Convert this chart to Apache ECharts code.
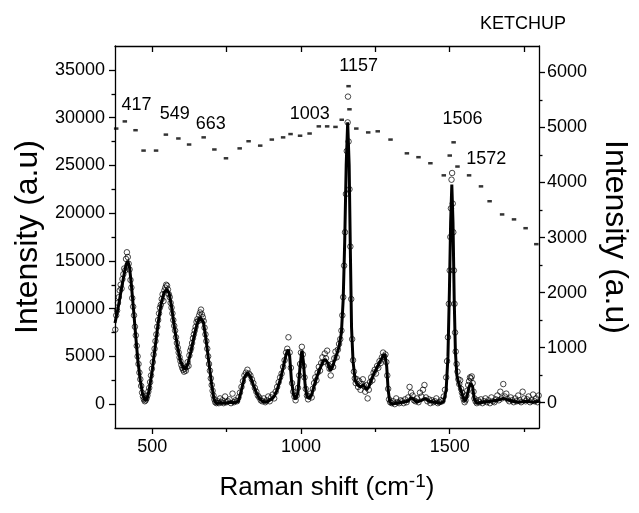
<!DOCTYPE html>
<html><head><meta charset="utf-8">
<script src="https://cdn.jsdelivr.net/npm/echarts@6/dist/echarts.min.js"></script>
<style>html,body{margin:0;padding:0;background:#fff}#c{width:639px;height:513px}</style>
</head><body><div id="c"></div>
<script>
const FONT = "'Liberation Sans', Arial, sans-serif";

const chartTitle = 'KETCHUP';
const xTitle = 'Raman shift (cm';
const xTitleSup = '-1';
const yTitle = 'Intensity (a.u)';

const xMajorTicks = [500, 1000, 1500];
const xMinorTicks = [750, 1250, 1750];
const xTopTicks = [500, 750, 1000, 1250, 1500, 1750];
const leftMajorTicks = [0, 5000, 10000, 15000, 20000, 25000, 30000, 35000];
const leftMinorTicks = [2500, 7500, 12500, 17500, 22500, 27500, 32500];
const rightMajorTicks = [0, 1000, 2000, 3000, 4000, 5000, 6000];
const rightMinorTicks = [500, 1500, 2500, 3500, 4500, 5500];

// smoothed spectrum (left axis)
const fitSpectrum = [
[375,8500],[385,10000],[395,11800],[405,13500],[412,14600],[418,15000],[424,14300],[430,12500],[437,10000],[445,7000],[452,4500],[460,2500],[468,1000],[475,400],[482,500],[490,1500],[500,3500],[510,6000],[520,8500],[530,10500],[540,11700],[550,12000],[557,11600],[565,10200],[575,8000],[585,6000],[595,4500],[605,3800],[612,3700],[620,4200],[630,5500],[640,7000],[650,8300],[660,9100],[666,9200],[672,8600],[680,7000],[690,4500],[700,2000],[708,500],[715,50],[730,150],[745,100],[760,200],[775,150],[790,300],[800,1500],[810,2800],[820,3300],[830,2900],[840,2000],[850,1200],[860,600],[870,300],[880,200],[890,300],[900,500],[910,800],[920,1500],[930,2500],[940,3800],[950,5200],[957,5700],[962,5000],[968,2500],[975,1000],[982,500],[990,1200],[997,4000],[1003,5600],[1008,4500],[1014,2000],[1020,800],[1028,600],[1036,1000],[1045,2000],[1055,3000],[1065,3800],[1075,4500],[1082,4700],[1090,4300],[1098,3500],[1105,3800],[1112,4500],[1120,5200],[1128,6000],[1136,7500],[1142,11000],[1147,17000],[1152,25000],[1157,29500],[1162,25000],[1166,16000],[1170,8000],[1175,4500],[1182,2500],[1190,2000],[1200,1800],[1210,2000],[1220,1500],[1228,1800],[1236,2500],[1245,3200],[1255,3800],[1265,4400],[1275,5000],[1282,5200],[1288,4000],[1293,1500],[1298,300],[1305,0],[1320,100],[1340,200],[1360,300],[1370,700],[1378,500],[1390,200],[1405,400],[1418,600],[1430,300],[1450,200],[1470,100],[1480,300],[1488,1500],[1494,5000],[1499,12000],[1503,19000],[1507,23000],[1511,19000],[1515,11000],[1519,5500],[1524,3000],[1530,2200],[1537,1500],[1545,700],[1552,300],[1558,800],[1565,1800],[1571,2200],[1577,1800],[1582,600],[1590,100],[1610,200],[1640,300],[1660,400],[1680,600],[1690,500],[1710,300],[1730,200],[1760,300],[1780,200],[1800,300]
];

// raw measured points (left axis)
const rawSpectrum = [
[376,7800],[379,9300],[382,9800],[385,10600],[388,11200],[391,11900],[394,12500],[397,12100],[400,13100],[403,13600],[406,14200],[409,14000],[412,15200],[415,15900],[418,15400],[421,14700],[424,14100],[427,13000],[430,12200],[433,11100],[436,10200],[439,9300],[442,8100],[445,7200],[448,6100],[451,5000],[454,4200],[457,3300],[460,2600],[463,1900],[466,1200],[469,800],[472,500],[475,300],[478,400],[481,600],[484,900],[487,1300],[490,1700],[493,2300],[496,3000],[499,3700],[502,4400],[505,5200],[508,5800],[511,6600],[514,7300],[517,8100],[520,8800],[523,9500],[526,10100],[529,10400],[532,11000],[535,11500],[538,10800],[541,11900],[544,12200],[547,12500],[550,12400],[553,12000],[556,11500],[559,11200],[562,10600],[565,10100],[568,9500],[571,8800],[574,8200],[577,7700],[580,7000],[583,6400],[586,5900],[589,5400],[592,4900],[595,4500],[598,4100],[601,3800],[604,3600],[607,3400],[610,3700],[613,3500],[616,3900],[619,4400],[622,4000],[625,5100],[628,5600],[631,5900],[634,6400],[637,6900],[640,7300],[643,7700],[646,8100],[649,8600],[652,8900],[655,8700],[658,9300],[661,9600],[664,9900],[667,9400],[670,9100],[673,8700],[676,8000],[679,7300],[682,6600],[685,5800],[688,5000],[691,4200],[694,3500],[697,2700],[700,2000],[703,1400],[706,900],[709,500],[712,200],[716,100],[720,300],[724,100],[728,600],[732,200],[736,400],[740,100],[745,800],[750,200],[755,300],[760,500],[765,100],[770,1100],[775,200],[780,400],[785,300],[790,700],[795,1200],[800,1800],[805,2400],[810,3000],[815,3300],[820,3600],[825,3200],[830,3000],[835,2600],[840,2200],[845,1700],[850,1300],[855,900],[860,700],[865,400],[870,300],[875,600],[880,200],[885,400],[890,800],[895,300],[900,700],[905,1000],[910,600],[915,1300],[920,1800],[925,2300],[930,2800],[935,3200],[940,3900],[945,4600],[950,5400],[954,5800],[958,7000],[962,5400],[966,3800],[970,2200],[974,1300],[978,800],[982,400],[986,900],[990,1700],[994,3000],[997,4200],[1000,5400],[1003,6000],[1006,5200],[1009,4000],[1012,2800],[1016,1600],[1020,900],[1024,500],[1028,800],[1032,1100],[1036,700],[1040,1600],[1044,2200],[1048,2800],[1052,2500],[1056,3300],[1060,3900],[1064,3500],[1068,4300],[1072,4900],[1076,4400],[1080,5300],[1084,4800],[1088,5600],[1092,4100],[1096,3700],[1100,3000],[1104,4200],[1108,3900],[1112,4800],[1116,5500],[1120,4900],[1124,5700],[1128,6300],[1132,6800],[1136,7700],[1139,9300],[1142,11200],[1145,14500],[1148,18000],[1151,22000],[1154,26500],[1157,29500],[1158,32200],[1160,27500],[1163,22500],[1166,16500],[1169,11000],[1172,6800],[1175,4600],[1178,3400],[1181,2700],[1184,2200],[1188,2600],[1192,1800],[1196,2400],[1200,1500],[1204,2100],[1208,2600],[1212,1900],[1216,1300],[1220,2000],[1224,600],[1228,1500],[1232,2300],[1236,2800],[1240,2500],[1244,3300],[1248,3600],[1252,3200],[1256,4000],[1260,3800],[1264,4500],[1268,4300],[1272,4900],[1276,5400],[1280,5000],[1284,5200],[1287,4400],[1290,3000],[1293,1600],[1296,500],[1300,200],[1305,100],[1310,300],[1315,0],[1320,600],[1325,200],[1330,100],[1335,400],[1340,300],[1345,100],[1350,500],[1355,200],[1360,700],[1365,1800],[1370,1200],[1375,900],[1380,400],[1385,300],[1390,600],[1395,200],[1400,1200],[1405,800],[1410,1500],[1415,2000],[1420,700],[1425,300],[1430,500],[1435,100],[1440,400],[1445,200],[1450,300],[1455,600],[1460,100],[1465,200],[1470,400],[1475,300],[1480,800],[1484,1500],[1488,2800],[1491,4500],[1494,7000],[1497,10500],[1500,14000],[1502,17500],[1504,20500],[1506,23500],[1508,24200],[1510,21000],[1512,18000],[1514,14000],[1516,10500],[1518,7500],[1520,5500],[1523,4200],[1526,3400],[1529,2600],[1532,2100],[1535,2500],[1538,1600],[1541,1200],[1544,800],[1547,500],[1550,200],[1553,400],[1556,900],[1559,1400],[1562,2000],[1565,2400],[1568,2800],[1571,2700],[1574,2900],[1577,2200],[1580,1300],[1583,600],[1587,300],[1591,100],[1595,400],[1600,200],[1605,500],[1610,100],[1615,300],[1620,600],[1625,200],[1630,400],[1635,100],[1640,700],[1645,300],[1650,200],[1655,500],[1660,900],[1665,400],[1670,1300],[1675,600],[1680,2100],[1685,800],[1690,1100],[1695,500],[1700,300],[1705,700],[1710,400],[1715,200],[1720,600],[1725,300],[1730,900],[1735,400],[1740,200],[1745,1300],[1750,600],[1755,300],[1760,500],[1765,800],[1770,200],[1775,400],[1780,1000],[1785,300],[1790,600],[1795,200],[1799,900]
];

// spectrum with background (right axis)
const backgroundSpectrum = [
[379,4980],[408,5110],[444,4950],[471,4580],[513,4580],[546,4870],[588,4800],[624,4690],[673,4820],[709,4600],[748,4440],[794,4620],[824,4750],[863,4670],[902,4780],[940,4820],[965,4880],[997,4850],[1029,4890],[1060,5020],[1088,5020],[1116,5010],[1137,5140],[1160,5750],[1163,5330],[1186,4980],[1226,4910],[1258,4930],[1301,4780],[1356,4530],[1395,4460],[1435,4350],[1480,4130],[1500,4490],[1513,4730],[1526,4290],[1565,4130],[1605,3930],[1634,3660],[1676,3420],[1716,3330],[1755,3170],[1791,2880]
];

// peak annotations: wavenumber and label height (right-axis units)
const peakNames = ['417', '549', '663', '1003', '1157', '1506', '1572'];
const peakShift = [417, 549, 663, 1003, 1157, 1506, 1572];
const peakLabelLevel = [5400, 5250, 5070, 5240, 6120, 5145, 4420];
const peakLabelDx = [9, 8, 10, 8, 11, 11, 15];

const X_MIN = 375, X_MAX = 1800;
const L_MIN = -2500, L_MAX = 37500;
const R_MIN = -460, R_MAX = 6480;

const lineStyle = { color: '#000', width: 1.3 };
const labelStyle = { fontSize: 18, color: '#000', fontFamily: FONT, formatter: v => String(v) };

function xAx(extra) {
  return Object.assign({
    type: 'value', min: X_MIN, max: X_MAX,
    splitLine: { show: false },
    axisLabel: { show: false },
    axisLine: { show: false, onZero: false, lineStyle: lineStyle },
    axisTick: { show: true, lineStyle: lineStyle }
  }, extra);
}
function yAx(extra, min, max) {
  return Object.assign({
    type: 'value', min: min, max: max,
    splitLine: { show: false },
    axisLabel: { show: false },
    axisLine: { show: false, onZero: false, lineStyle: lineStyle },
    axisTick: { show: true, lineStyle: lineStyle }
  }, extra);
}

const chart = echarts.init(document.getElementById('c'), null, { renderer: 'canvas' });
chart.setOption({
  animation: false,
  backgroundColor: '#fff',
  title: {
    text: chartTitle, left: 480, top: 15, padding: 0,
    textStyle: { fontSize: 18, fontWeight: 'normal', color: '#000', fontFamily: FONT }
  },
  grid: { left: 115, right: 88, top: 46, bottom: 85, containLabel: false },
  xAxis: [
    xAx({
      position: 'bottom',
      axisLine: { show: true, onZero: false, lineStyle: lineStyle },
      axisTick: { show: true, length: 6, customValues: xMajorTicks, lineStyle: lineStyle },
      axisLabel: Object.assign({ show: true, margin: 10, customValues: xMajorTicks }, labelStyle),
      name: '{a|' + xTitle + '}{b|' + xTitleSup + '}{a|)}',
      nameLocation: 'middle', nameGap: 44,
      nameTextStyle: {
        fontFamily: FONT, color: '#000',
        rich: {
          a: { fontSize: 26, fontFamily: FONT, color: '#000', lineHeight: 32 },
          b: { fontSize: 19, fontFamily: FONT, color: '#000', verticalAlign: 'top', lineHeight: 19 }
        }
      }
    }),
    xAx({ position: 'bottom', axisTick: { show: true, length: 4, customValues: xMinorTicks, lineStyle: lineStyle } }),
    xAx({
      position: 'top',
      axisLine: { show: true, onZero: false, lineStyle: lineStyle },
      axisTick: { show: true, inside: true, length: 6, customValues: xTopTicks, lineStyle: lineStyle }
    })
  ],
  yAxis: [
    yAx({
      position: 'left',
      axisLine: { show: true, onZero: false, lineStyle: lineStyle },
      axisTick: { show: true, length: 6, customValues: leftMajorTicks, lineStyle: lineStyle },
      axisLabel: Object.assign({ show: true, margin: 10, customValues: leftMajorTicks }, labelStyle),
      name: yTitle, nameLocation: 'middle', nameRotate: 90, nameGap: 68,
      nameTextStyle: { fontSize: 32, color: '#000', fontFamily: FONT }
    }, L_MIN, L_MAX),
    yAx({ position: 'left', axisTick: { show: true, length: 3.5, customValues: leftMinorTicks, lineStyle: lineStyle } }, L_MIN, L_MAX),
    yAx({
      position: 'right',
      axisLine: { show: true, onZero: false, lineStyle: lineStyle },
      axisTick: { show: true, length: 6, customValues: rightMajorTicks, lineStyle: lineStyle },
      axisLabel: Object.assign({ show: true, margin: 8, customValues: rightMajorTicks }, labelStyle),
      name: yTitle, nameLocation: 'middle', nameRotate: -90, nameGap: 60,
      nameTextStyle: { fontSize: 32, color: '#000', fontFamily: FONT }
    }, R_MIN, R_MAX),
    yAx({ position: 'right', axisTick: { show: true, length: 3.5, customValues: rightMinorTicks, lineStyle: lineStyle } }, R_MIN, R_MAX)
  ],
  series: [
    {
      type: 'line', xAxisIndex: 0, yAxisIndex: 0, data: fitSpectrum,
      symbol: 'none', showSymbol: false,
      lineStyle: { color: '#000', width: 3 }, z: 2
    },
    {
      type: 'scatter', xAxisIndex: 0, yAxisIndex: 0, data: rawSpectrum,
      symbol: 'circle', symbolSize: 5.5,
      itemStyle: { color: 'rgba(0,0,0,0)', borderColor: '#000', borderWidth: 0.9 }, z: 3
    },
    {
      type: 'scatter', xAxisIndex: 0, yAxisIndex: 2, data: backgroundSpectrum,
      symbol: 'rect', symbolSize: [4.5, 2.5],
      itemStyle: { color: '#000' }, z: 3
    },
    {
      type: 'scatter', xAxisIndex: 0, yAxisIndex: 2,
      data: peakNames.map((n, i) => ({
        name: n, value: [peakShift[i], peakLabelLevel[i]],
        label: { offset: [peakLabelDx[i], 0] }
      })),
      symbol: 'circle', symbolSize: 1,
      itemStyle: { color: '#000', opacity: 0 },
      label: {
        show: true, position: 'inside',
        formatter: p => p.name, fontSize: 18, color: '#000', opacity: 1,
        textBorderWidth: 0, fontFamily: FONT
      },
      z: 4
    }
  ]
});
</script>
</body></html>
